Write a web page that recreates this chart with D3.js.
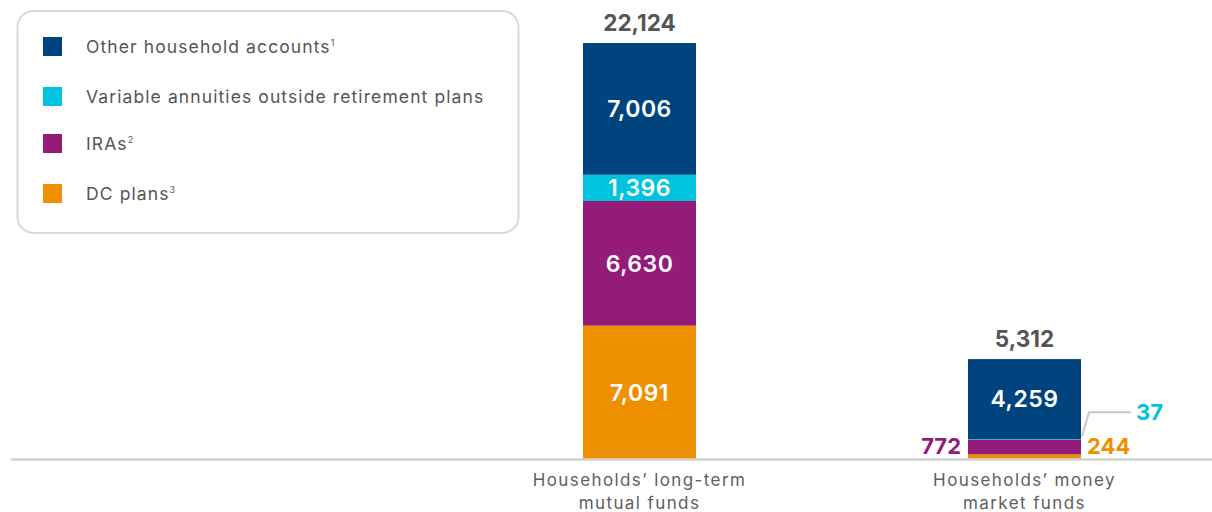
<!DOCTYPE html>
<html>
<head>
<meta charset="utf-8">
<script src="https://cdn.jsdelivr.net/npm/d3@7"></script>
<style>
  html, body { margin: 0; padding: 0; background: #ffffff; }
  svg { display: block; font-family: Inter, "Noto Sans", sans-serif; }
</style>
</head>
<body>
<svg id="chart" width="1212" height="512"></svg>
<script>
// Fund holdings by account type (billions of dollars)
const categories = ["Households’ long-term mutual funds", "Households’ money market funds"];
const categoryLines = [["Households’ long-term", "mutual funds"], ["Households’ money", "market funds"]];
const seriesNames = ["DC plans", "IRAs", "Variable annuities outside retirement plans", "Other household accounts"];
const seriesNotes = ["3", "2", "", "1"];
const dcPlans = [7091, 244];
const iras = [6630, 772];
const variableAnnuities = [1396, 37];
const otherHousehold = [7006, 4259];
const totals = [22124, 5312];

const colors = ["#ef9000", "#951b79", "#00c4de", "#00447f"];
const seriesValues = [dcPlans, iras, variableAnnuities, otherHousehold];

const rows = categories.map((c, i) => {
  const r = { category: c };
  seriesNames.forEach((s, k) => { r[s] = seriesValues[k][i]; });
  return r;
});

const svg = d3.select("#chart");
const fmt = d3.format(",");

const x = d3.scalePoint().domain(categories).range([639.5, 1024.5]);
const barW = 113;
const y = d3.scaleLinear().domain([0, d3.max(totals)]).range([459, 43]);

const stack = d3.stack().keys(seriesNames);
const layers = stack(rows);

// Stacked bars
const layerG = svg.append("g").selectAll("g")
  .data(layers).join("g")
  .attr("fill", (d, i) => colors[i]);

layerG.selectAll("rect")
  .data(d => d.map(p => ({ p, cat: p.data.category })))
  .join("rect")
  .attr("x", d => x(d.cat) - barW / 2)
  .attr("width", barW)
  .attr("y", d => y(d.p[1]))
  .attr("height", d => y(d.p[0]) - y(d.p[1]));

// Baseline
svg.append("line")
  .attr("x1", 11).attr("x2", 1212)
  .attr("y1", y(0) + 0.5).attr("y2", y(0) + 0.5)
  .attr("stroke", "#d2d2d2").attr("stroke-width", 2.5);

// Labels inside the tall bar
layers.forEach((layer, k) => {
  const p = layer[0];
  svg.append("text")
    .attr("x", x(categories[0]))
    .attr("y", (y(p[0]) + y(p[1])) / 2)
    .attr("dy", "0.36em")
    .attr("text-anchor", "middle")
    .attr("fill", "#ffffff")
    .attr("font-size", 23).attr("font-weight", 600)
    .attr("letter-spacing", 0.5)
    .text(fmt(p[1] - p[0]));
});

// Money market bar: large segment labelled inside, small ones outside
const mm = categories[1];
const mmOther = layers[3][1];
svg.append("text")
  .attr("x", x(mm)).attr("y", (y(mmOther[0]) + y(mmOther[1])) / 2)
  .attr("dy", "0.36em").attr("text-anchor", "middle")
  .attr("fill", "#ffffff").attr("font-size", 23).attr("font-weight", 600)
  .attr("letter-spacing", 0.5)
  .text(fmt(otherHousehold[1]));

svg.append("text")
  .attr("x", x(mm) - barW / 2 - 7).attr("y", y(0) - 5)
  .attr("text-anchor", "end")
  .attr("fill", colors[1]).attr("font-size", 22).attr("font-weight", 700)
  .text(fmt(iras[1]));

svg.append("text")
  .attr("x", x(mm) + barW / 2 + 6).attr("y", y(0) - 5)
  .attr("text-anchor", "start")
  .attr("fill", colors[0]).attr("font-size", 22).attr("font-weight", 700)
  .text(fmt(dcPlans[1]));

// Leader line to the variable annuity value
const vaTop = y(layers[2][1][1]);
const bx = x(mm) + barW / 2;
svg.append("path")
  .attr("d", d3.line()([[bx + 1, vaTop - 3], [bx + 8, vaTop - 27], [bx + 50, vaTop - 27]]))
  .attr("fill", "none").attr("stroke", "#c8c8c8").attr("stroke-width", 2);

svg.append("text")
  .attr("x", bx + 55).attr("y", vaTop - 27).attr("dy", "0.36em")
  .attr("fill", colors[2]).attr("font-size", 22).attr("font-weight", 700)
  .text(fmt(variableAnnuities[1]));

// Totals above bars
svg.append("g").selectAll("text")
  .data(categories).join("text")
  .attr("x", d => x(d))
  .attr("y", (d, i) => y(totals[i]) - 12)
  .attr("text-anchor", "middle")
  .attr("fill", "#555555").attr("font-size", 22.5).attr("font-weight", 700)
  .text((d, i) => fmt(totals[i]));

// Category labels
const catG = svg.append("g").selectAll("text")
  .data(categories).join("text")
  .attr("x", d => x(d))
  .attr("y", 486)
  .attr("text-anchor", "middle")
  .attr("fill", "#606060").attr("font-size", 17)
  .attr("letter-spacing", 1.4);
catG.selectAll("tspan")
  .data((d, i) => categoryLines[i])
  .join("tspan")
  .attr("x", function () { return this.parentNode.getAttribute("x"); })
  .attr("dy", (d, j) => j === 0 ? 0 : 23)
  .text(d => d);

// Legend
const legend = svg.append("g");
legend.append("rect")
  .attr("x", 17.5).attr("y", 11).attr("width", 501).attr("height", 222)
  .attr("rx", 16).attr("ry", 16)
  .attr("fill", "#ffffff").attr("stroke", "#d9d9d9").attr("stroke-width", 2);

const legendOrder = [3, 2, 1, 0];
const legendY = [46.5, 96.5, 143.5, 193.5];
legendOrder.forEach((k, i) => {
  legend.append("rect")
    .attr("x", 43).attr("y", legendY[i] - 9.5)
    .attr("width", 19).attr("height", 19)
    .attr("fill", colors[k]);
  const t = legend.append("text")
    .attr("x", 86).attr("y", legendY[i]).attr("dy", "0.36em")
    .attr("fill", "#555555").attr("font-size", 17.5)
    .attr("letter-spacing", 1.1);
  t.append("tspan").text(seriesNames[k]);
  if (seriesNotes[k]) {
    t.append("tspan").attr("font-size", 9).attr("letter-spacing", 0)
      .attr("dy", "-0.75em").text(seriesNotes[k]);
  }
});
</script>
</body>
</html>
